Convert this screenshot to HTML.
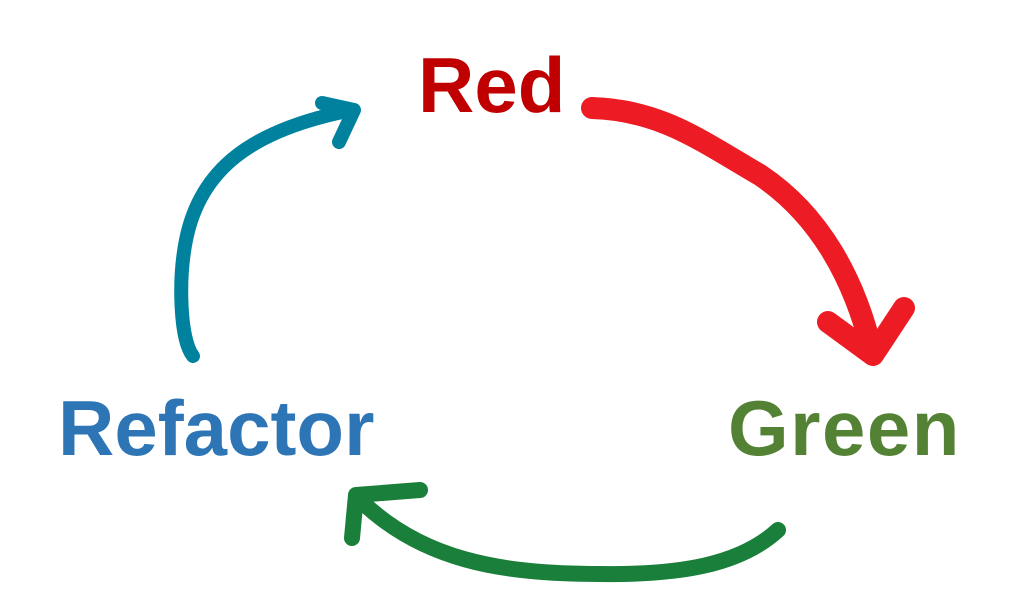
<!DOCTYPE html>
<html><head><meta charset="utf-8"><style>
html,body{margin:0;padding:0;background:#fff;}
body{width:1016px;height:594px;position:relative;overflow:hidden;font-family:"Liberation Sans",Arial,sans-serif;font-weight:bold;}
.t{position:absolute;line-height:1;white-space:nowrap;}
</style></head><body>
<svg width="1016" height="594" style="position:absolute;left:0;top:0" fill="none" stroke-linecap="round" stroke-linejoin="round">
  <path d="M592 108 C660 110 700 140 760 175 C820 215 855 280 872 352" stroke="#ED1C24" stroke-width="22"/>
  <path d="M828 322 L873 355 L904 308" stroke="#ED1C24" stroke-width="22"/>
  <path d="M193 356 C180 340 178 280 186 240 C200 170 250 130 352 110" stroke="#00829F" stroke-width="14"/>
  <path d="M322 103 L354 110 L339 142" stroke="#00829F" stroke-width="14"/>
  <path d="M778 530 C740 565 680 575 600 574 C500 574 420 560 358 498" stroke="#1A7F3A" stroke-width="16"/>
  <path d="M352 538 L356 495 L420 490" stroke="#1A7F3A" stroke-width="16"/>
</svg>
<div class="t" style="left:418px;top:46px;font-size:78px;color:#C00000;">Red</div>
<div class="t" style="left:58px;top:389px;font-size:78px;color:#2E75B6;">Refactor</div>
<div class="t" style="left:728px;top:389px;font-size:78px;color:#548235;letter-spacing:1.5px;">Green</div>
</body></html>
